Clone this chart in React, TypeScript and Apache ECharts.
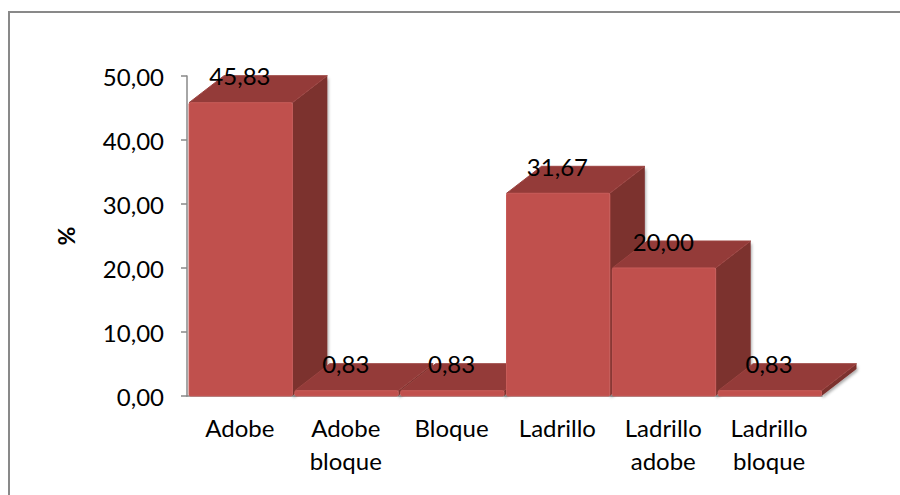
import React, { useEffect, useRef } from "react";
import * as echarts from "echarts";

// Housing wall material shares (%)
const categories: string[] = [
  "Adobe",
  "Adobe\nbloque",
  "Bloque",
  "Ladrillo",
  "Ladrillo\nadobe",
  "Ladrillo\nbloque",
];
const percentages: number[] = [45.83, 0.83, 0.83, 31.67, 20.0, 0.83];
const yTicks = { min: 0, max: 50, interval: 10 };

const FONT = "Lato, 'Open Sans', sans-serif";
const DEPTH_X = 35;
const DEPTH_Y = -27;

const fmt = (v: number) => v.toFixed(2).replace(".", ",");

export default function App() {
  const ref = useRef<HTMLDivElement>(null);

  useEffect(() => {
    if (!ref.current) return;
    const chart = echarts.init(ref.current, undefined, { renderer: "svg" });

    const data = percentages.map((v, i) => [i, v]);

    const renderBar = (_params: any, api: any) => {
      const i = api.value(0);
      const v = api.value(1);
      const top = api.coord([i, v]);
      const base = api.coord([i, 0]);
      const w = api.size([1, 0])[0];
      const x0 = top[0] - w / 2 + 2;
      const x1 = top[0] + w / 2 - 0.5;
      const yT = top[1];
      const yB = base[1];
      return {
        type: "group",
        children: [
          {
            type: "polygon",
            shape: {
              points: [
                [x1, yT],
                [x1 + DEPTH_X, yT + DEPTH_Y],
                [x1 + DEPTH_X, yB + DEPTH_Y],
                [x1, yB],
              ],
            },
            style: {
              fill: "#7B302E",
              shadowBlur: 3,
              shadowColor: "rgba(0,0,0,0.35)",
              shadowOffsetX: 1,
              shadowOffsetY: 2,
            },
          },
          {
            type: "polygon",
            shape: {
              points: [
                [x0, yT],
                [x1, yT],
                [x1 + DEPTH_X, yT + DEPTH_Y],
                [x0 + DEPTH_X, yT + DEPTH_Y],
              ],
            },
            style: { fill: "#943B39", stroke: "#9c4441", lineWidth: 1 },
          },
          {
            type: "rect",
            shape: { x: x0, y: yT, width: x1 - x0, height: yB - yT, r: 1.5 },
            style: { fill: "#C0504D", stroke: "#c75b58", lineWidth: 1 },
          },
        ],
      };
    };

    const renderLabel = (_params: any, api: any) => {
      const i = api.value(0);
      const v = api.value(1);
      const top = api.coord([i, v]);
      return {
        type: "text",
        x: top[0],
        y: top[1] + DEPTH_Y,
        style: {
          text: fmt(v),
          fill: "#000",
          font: `24px ${FONT}`,
          align: "center",
          verticalAlign: "middle",
        },
        z2: 100,
      };
    };

    chart.setOption({
      animation: false,
      backgroundColor: "#fff",
      grid: { left: 187, right: 78, top: 76, bottom: 99 },
      graphic: [
        {
          type: "rect",
          shape: { x: 9, y: 12, width: 1000, height: 1000 },
          style: { fill: "none", stroke: "#898989", lineWidth: 2 },
          silent: true,
        },
      ],
      xAxis: {
        type: "category",
        data: categories,
        boundaryGap: true,
        axisLine: { lineStyle: { color: "#888", width: 1.5 } },
        axisTick: { show: false },
        axisLabel: {
          color: "#000",
          fontFamily: FONT,
          fontSize: 24,
          lineHeight: 33,
          margin: 15,
          interval: 0,
        },
      },
      yAxis: {
        type: "value",
        min: yTicks.min,
        max: yTicks.max,
        interval: yTicks.interval,
        name: "%",
        nameLocation: "middle",
        nameRotate: 90,
        nameGap: 110,
        nameTextStyle: {
          color: "#000",
          fontFamily: FONT,
          fontSize: 23,
          fontWeight: "bold",
        },
        splitLine: { show: false },
        axisLine: { show: true, lineStyle: { color: "#888", width: 1.5 } },
        axisTick: { show: true, length: 6, lineStyle: { color: "#888", width: 1.5 } },
        axisLabel: {
          color: "#000",
          fontFamily: FONT,
          fontSize: 24,
          margin: 23,
          formatter: (v: number) => fmt(v),
        },
      },
      series: [
        {
          type: "custom",
          renderItem: renderBar,
          data,
          encode: { x: 0, y: 1 },
          clip: false,
          z: 2,
        },
        {
          type: "custom",
          renderItem: renderLabel,
          data,
          encode: { x: 0, y: 1 },
          clip: false,
          z: 5,
        },
      ],
    });

    return () => chart.dispose();
  }, []);

  return (
    <div
      ref={ref}
      style={{ position: "fixed", left: 0, top: 0, width: 900, height: 495 }}
    />
  );
}
